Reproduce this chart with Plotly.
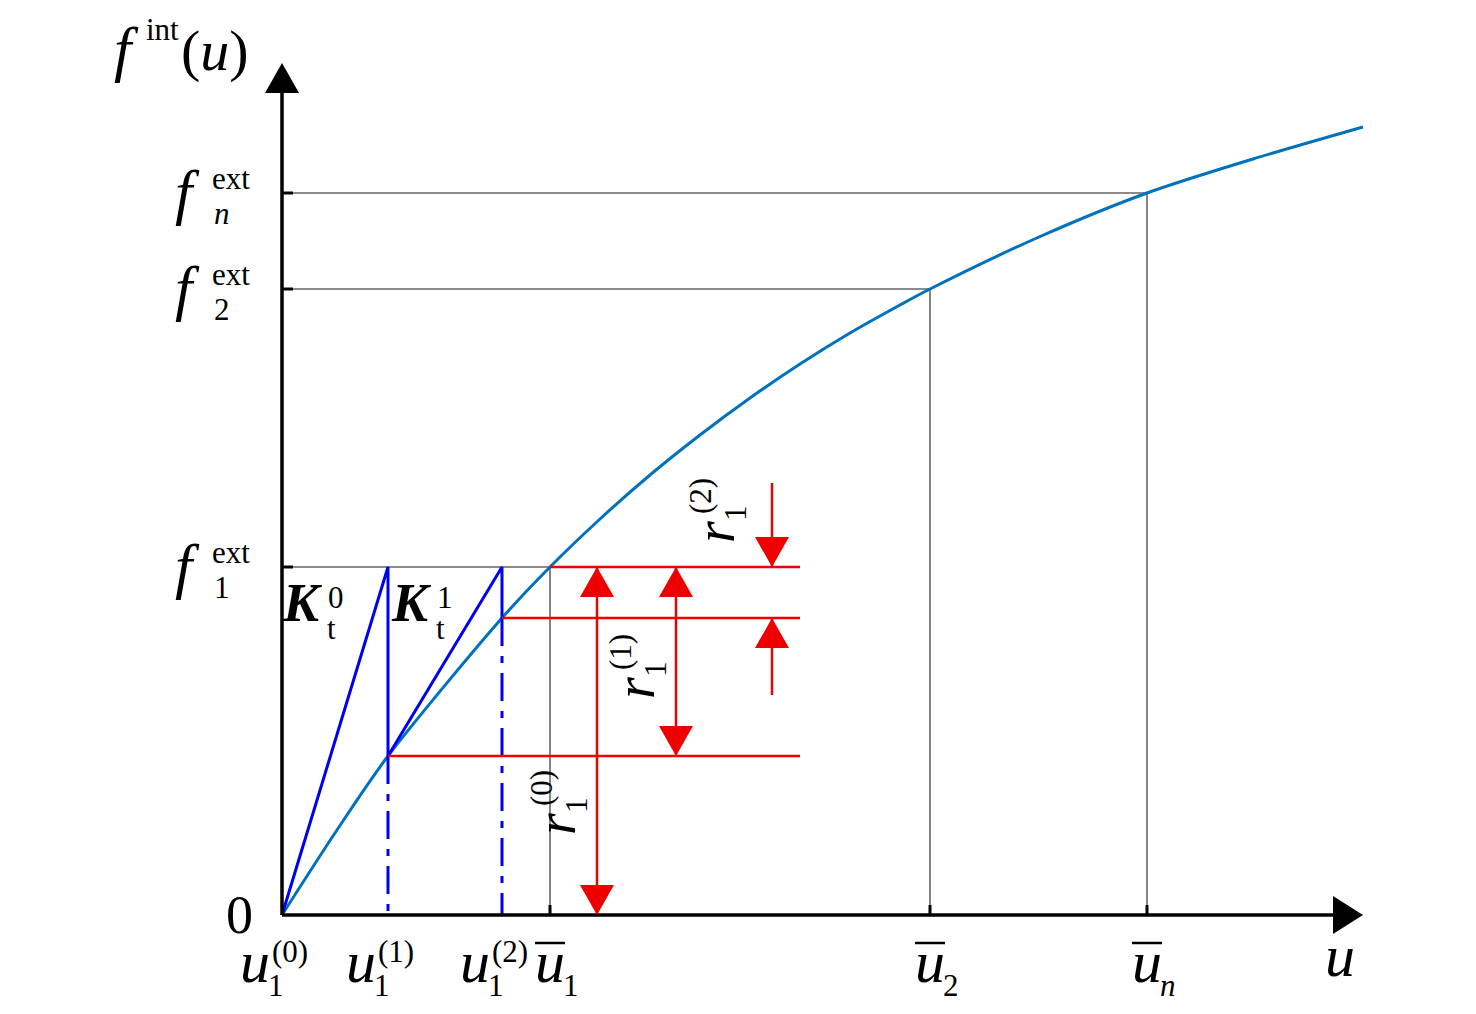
import plotly.graph_objects as go

# load-displacement curve f_int(u)
u_curve = [0, 53, 106, 220, 268, 318, 368, 418, 468, 518, 568, 618, 648, 757, 865, 971, 1081]
f_curve = [0, 82, 159, 297, 348, 396, 440, 480, 517, 551, 582, 610, 626, 678, 722, 756, 788]

# Newton iterates in load step 1
u_iter = [0, 106, 220]
f_iter = [0, 159, 297]

# converged displacements / external loads
u_bar = [268, 648, 865]
f_ext = [348, 626, 722]

# where the residual arrows sit and how far the red lines run
r_x = [315, 394, 490]
red_end = 518
axis_end = [1081, 852]

FONT = "Liberation Serif, Times New Roman, serif"
BIG, ITAL, SMALL = 54, 60, 31

fig = go.Figure()

def seg(xs, ys, color, width, dash="solid"):
    fig.add_trace(go.Scatter(x=xs, y=ys, mode="lines", hoverinfo="skip",
                             line=dict(color=color, width=width, dash=dash)))

# gray guide lines
gx, gy = [], []
for ub, fe in zip(u_bar, f_ext):
    gx += [0, ub, ub, None]
    gy += [fe, fe, 0, None]
seg(gx, gy, "#666666", 1.6)

# curve
fig.add_trace(go.Scatter(x=u_curve, y=f_curve, mode="lines", hoverinfo="skip",
                         line=dict(color="#0072BD", width=3, shape="spline", smoothing=0.8)))

# tangent stiffness lines
seg([u_iter[0], u_iter[1], u_iter[1], u_iter[2], u_iter[2]],
    [f_iter[0], f_ext[0], f_iter[1], f_ext[0], f_iter[2]], "#0000F0", 3)
for k in (1, 2):
    seg([u_iter[k], u_iter[k]], [f_iter[k], 0], "#0000F0", 3, dash="28px,10px,7px,10px")

# residual lines
seg([u_bar[0], red_end, None, u_iter[2], red_end, None, u_iter[1], red_end],
    [f_ext[0], f_ext[0], None, f_iter[2], f_iter[2], None, f_iter[1], f_iter[1]], "#EE0000", 2.5)
seg([r_x[0], r_x[0]], [f_iter[0], f_ext[0]], "#EE0000", 2.5)
seg([r_x[1], r_x[1]], [f_iter[1], f_ext[0]], "#EE0000", 2.5)
seg([r_x[2], r_x[2], None, r_x[2], r_x[2]],
    [f_ext[0] + 84, f_ext[0], None, f_iter[2], f_iter[2] - 77], "#EE0000", 2.5)

def head(x, y, direction, color, L=30, W=17, horiz=False):
    # filled triangle with tip at (x, y)
    if horiz:
        p = f"M{x},{y} L{x - direction * L},{y + W} L{x - direction * L},{y - W} Z"
    else:
        p = f"M{x},{y} L{x - W},{y - direction * L} L{x + W},{y - direction * L} Z"
    fig.add_shape(type="path", path=p, fillcolor=color, line=dict(width=0),
                  xref="x", yref="y", layer="above")

head(r_x[0], f_ext[0], 1, "#EE0000")
head(r_x[0], f_iter[0], -1, "#EE0000")
head(r_x[1], f_ext[0], 1, "#EE0000")
head(r_x[1], f_iter[1], -1, "#EE0000")
head(r_x[2], f_ext[0], -1, "#EE0000")
head(r_x[2], f_iter[2], 1, "#EE0000")

# axes
seg([0, axis_end[0] - 25, None, 0, 0], [0, 0, None, 0, axis_end[1] - 25], "black", 3.5)
head(axis_end[0], 0, 1, "black", L=30, W=19, horiz=True)
head(0, axis_end[1], 1, "black", L=30, W=17)
tx, ty = [], []
for fe in f_ext:
    tx += [0, 11, None]
    ty += [fe, fe, None]
for ub in u_bar:
    tx += [ub, ub, None]
    ty += [0, 10, None]
seg(tx, ty, "black", 3)

def txt(x, y, text, size, angle=0):
    fig.add_annotation(x=x, y=y, text=text, showarrow=False, textangle=angle,
                       xanchor="center", yanchor="middle",
                       font=dict(family=FONT, size=size, color="black"))

# y-axis title
txt(-156, 866, "<i>f</i>", ITAL + 2)
txt(-120, 886, "int", SMALL)
txt(-67, 865, "(<i>u</i>)", ITAL - 2)

# f_ext labels
for fe, sub in zip(f_ext, ["1", "2", "<i>n</i>"]):
    txt(-95, fe + 1, "<i>f</i>", ITAL + 2)
    txt(-51, fe + 15, "ext", SMALL)
    txt(-60, fe - 20, sub, SMALL)

# origin
txt(-43, 0, "0", BIG)

# iterate labels on u axis
for k, uk in enumerate(u_iter):
    bx = uk - 27
    txt(bx, -47, "<i>u</i>", ITAL)
    txt(bx + 35, -36, f"({k})", SMALL)
    txt(bx + 21, -70, "1", SMALL)

# converged displacement labels
for ub, sub in zip(u_bar, ["1", "2", "<i>n</i>"]):
    txt(ub, -47, "<i>u</i>", ITAL)
    txt(ub + 21, -70, sub, SMALL)
    fig.add_shape(type="line", x0=ub - 15, x1=ub + 15, y0=-28, y1=-28,
                  line=dict(color="black", width=2.5))
txt(axis_end[0] - 23, -41, "<i>u</i>", ITAL)

# stiffness labels
for uk, sup in zip(u_iter[:2], ["0", "1"]):
    bx = uk + 20 if sup == "0" else uk + 23
    txt(bx, 312, "<b><i>K</i></b>", BIG)
    txt(bx + 34, 318, sup, SMALL)
    txt(bx + 29, 287, "t", SMALL)

# residual labels (rotated)
r_lab = [(556 - 282, 915 - 824), (635 - 282, 915 - 688), (715 - 282, 915 - 532)]
for k, (rx, ry) in enumerate(r_lab):
    txt(rx, ry, "<i>r</i>", BIG + 2, -90)
    txt(rx - 15, ry + 36, f"({k})", SMALL, -90)
    txt(rx + 20, ry + 19, "1", SMALL, -90)

# the page puts the plot 8px in from the corner, so size and ranges absorb that
fig.update_layout(
    width=1460, height=998,
    margin=dict(l=0, r=0, t=0, b=0),
    showlegend=False,
    plot_bgcolor="white", paper_bgcolor="white",
    xaxis=dict(range=[-274, 1186], visible=False, fixedrange=True),
    yaxis=dict(range=[-91, 907], visible=False, fixedrange=True),
)

fig.write_html("out.html")
